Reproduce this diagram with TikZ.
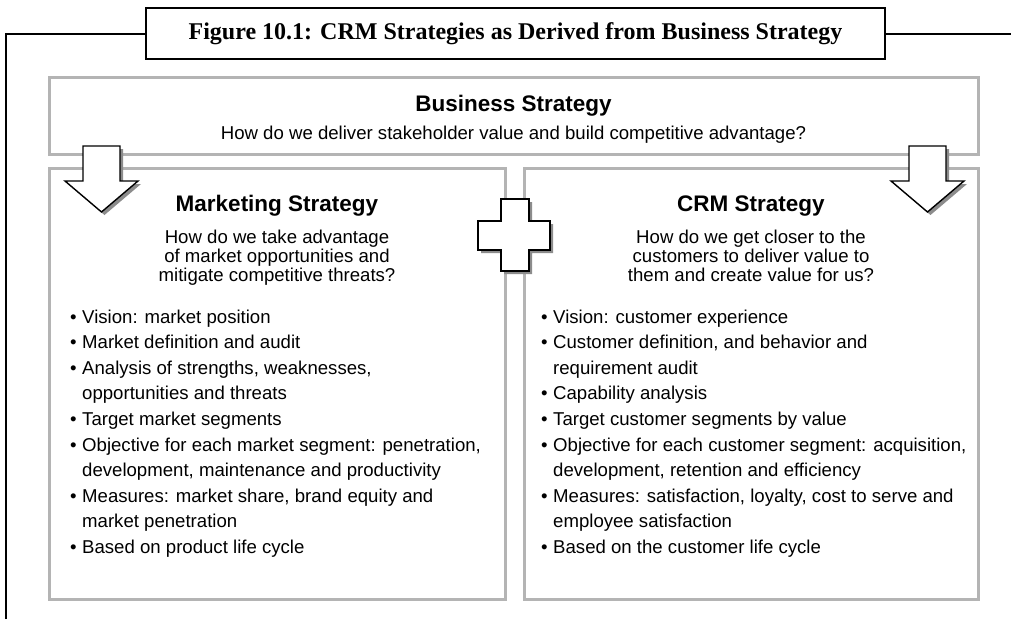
\documentclass[tikz,border=0pt]{standalone}
\usepackage{fontspec}
\setmainfont{Liberation Sans}
\newfontfamily\titlefont{Liberation Serif}
\definecolor{boxgray}{RGB}{180,180,180}
\definecolor{shadowgray}{RGB}{140,140,140}
\newcommand\bodyf{\fontsize{18.6}{19.2}\selectfont}
\newcommand\headf{\fontsize{22.5}{24}\selectfont\bfseries}
\newcommand\bul{\makebox[12pt][l]{\textbullet}}
\begin{document}
\begin{tikzpicture}[x=1pt,y=-1pt,
  gbox/.style={draw=boxgray,line width=3pt},
  blockshape/.style={draw=black,fill=white,line width=1.4pt,line join=miter},
  shadowshape/.style={fill=shadowgray,draw=none},
  headtxt/.style={anchor=base,inner sep=0pt,font=\headf},
  subtxt/.style={anchor=base,inner sep=0pt,font=\bodyf},
  bline/.style={anchor=base west,inner sep=0pt,font=\bodyf}]
\useasboundingbox (0,0) rectangle (1011,619);
\fill[white] (0,0) rectangle (1011,619);

% outer frame and title
\draw[line width=2pt] (6,619) -- (6,34) -- (1011,34);
\node[draw=black,fill=white,line width=2pt,minimum width=739pt,minimum height=51pt,inner sep=0pt,
      font=\titlefont\bfseries\fontsize{24}{26}\selectfont] (title) at (515.5,33.5)
      {Figure 10.1: CRM Strategies as Derived from Business Strategy};

% gray boxes
\draw[gbox] (49,77) rectangle (978,154);
\draw[gbox] (49,168) rectangle (505,599);
\draw[gbox] (524,168) rectangle (978,599);

% block arrows
\fill[shadowshape,shift={(3,3)}] (83,146) -- (120,146) -- (120,181) -- (138,181) -- (101.5,212) -- (65,181) -- (83,181) -- cycle;
\draw[blockshape] (83,146) -- (120,146) -- (120,181) -- (138,181) -- (101.5,212) -- (65,181) -- (83,181) -- cycle;
\fill[shadowshape,shift={(3,3)}] (909,146) -- (946,146) -- (946,181) -- (964,181) -- (927.5,212) -- (891,181) -- (909,181) -- cycle;
\draw[blockshape] (909,146) -- (946,146) -- (946,181) -- (964,181) -- (927.5,212) -- (891,181) -- (909,181) -- cycle;

% plus sign
\fill[shadowshape,shift={(3,3)}] (501,199) -- (529,199) -- (529,221) -- (550,221) -- (550,250) -- (529,250) -- (529,271) -- (501,271) -- (501,250) -- (478,250) -- (478,221) -- (501,221) -- cycle;
\draw[blockshape] (501,199) -- (529,199) -- (529,221) -- (550,221) -- (550,250) -- (529,250) -- (529,271) -- (501,271) -- (501,250) -- (478,250) -- (478,221) -- (501,221) -- cycle;

% business strategy
\node[headtxt] (bsh) at (513.5,111) {Business Strategy};
\node[subtxt] (bss) at (513.5,139) {How do we deliver stakeholder value and build competitive advantage?};

% marketing strategy
\node[headtxt] (msh) at (277,211) {Marketing Strategy};
\node[subtxt] (ms1) at (277,243) {How do we take advantage};
\node[subtxt] (ms2) at (277,262) {of market opportunities and};
\node[subtxt] (ms3) at (277,281) {mitigate competitive threats?};

\node[bline] (m1) at (70,323) {\bul Vision: market position};
\node[bline] (m2) at (70,348.6) {\bul Market definition and audit};
\node[bline] (m3) at (70,374.2) {\bul Analysis of strengths, weaknesses,};
\node[bline] (m4) at (82,399.8) {opportunities and threats};
\node[bline] (m5) at (70,425.4) {\bul Target market segments};
\node[bline] (m6) at (70,451) {\bul Objective for each market segment: penetration,};
\node[bline] (m7) at (82,476.6) {development, maintenance and productivity};
\node[bline] (m8) at (70,502.2) {\bul Measures: market share, brand equity and};
\node[bline] (m9) at (82,527.8) {market penetration};
\node[bline] (m10) at (70,553.4) {\bul Based on product life cycle};

% CRM strategy
\node[headtxt] (csh) at (751,211) {CRM Strategy};
\node[subtxt] (cs1) at (751,243) {How do we get closer to the};
\node[subtxt] (cs2) at (751,262) {customers to deliver value to};
\node[subtxt] (cs3) at (751,281) {them and create value for us?};

\node[bline] (c1) at (541,323) {\bul Vision: customer experience};
\node[bline] (c2) at (541,348.6) {\bul Customer definition, and behavior and};
\node[bline] (c3) at (553,374.2) {requirement audit};
\node[bline] (c4) at (541,399.8) {\bul Capability analysis};
\node[bline] (c5) at (541,425.4) {\bul Target customer segments by value};
\node[bline] (c6) at (541,451) {\bul Objective for each customer segment: acquisition,};
\node[bline] (c7) at (553,476.6) {development, retention and efficiency};
\node[bline] (c8) at (541,502.2) {\bul Measures: satisfaction, loyalty, cost to serve and};
\node[bline] (c9) at (553,527.8) {employee satisfaction};
\node[bline] (c10) at (541,553.4) {\bul Based on the customer life cycle};
\end{tikzpicture}
\end{document}
